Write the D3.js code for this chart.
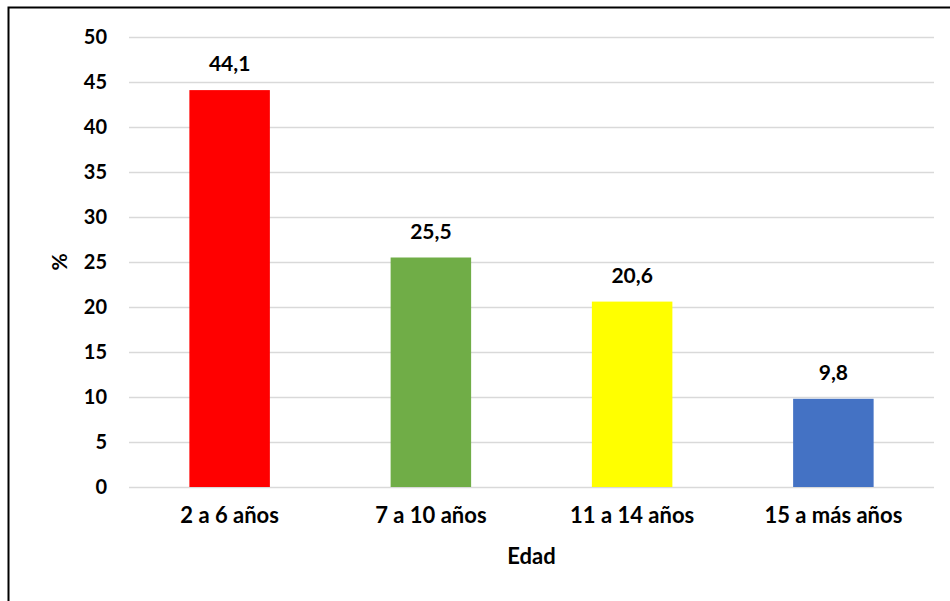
<!DOCTYPE html>
<html>
<head>
<meta charset="utf-8">
<script src="https://cdn.jsdelivr.net/npm/d3@7"></script>
<style>
  body { margin: 0; background: #fff; }
  text { font-family: Lato, "Open Sans", sans-serif; font-weight: bold; fill: #000; }
</style>
</head>
<body>
<div id="grafico"></div>
<script>
const edades = ["2 a 6 años", "7 a 10 años", "11 a 14 años", "15 a más años"];
const valores = [44.1, 25.5, 20.6, 9.8];
const colores = ["#ff0000", "#70ad47", "#ffff00", "#4472c4"];
const ticks = [0, 5, 10, 15, 20, 25, 30, 35, 40, 45, 50];

const width = 950;
const height = 601;
const margin = { top: 37, right: 16, bottom: 114, left: 129 };

const data = edades.map((e, i) => ({ edad: e, valor: valores[i], color: colores[i] }));

const svg = d3
  .select("#grafico")
  .append("svg")
  .attr("width", width)
  .attr("height", height);

// marco
svg
  .append("rect")
  .attr("x", 8.5)
  .attr("y", 7.5)
  .attr("width", width + 20)
  .attr("height", height + 20)
  .attr("fill", "none")
  .attr("stroke", "#000")
  .attr("stroke-width", 2);

const x = d3
  .scaleBand()
  .domain(edades)
  .range([margin.left, width - margin.right])
  .paddingInner(0.6)
  .paddingOuter(0.3);

const y = d3
  .scaleLinear()
  .domain([0, 50])
  .range([height - margin.bottom, margin.top]);

// Grilla
const ejeY = svg
  .append("g")
  .attr("transform", `translate(${margin.left},0)`)
  .call(
    d3.axisLeft(y)
      .tickValues(ticks)
      .tickSize(-(width - margin.left - margin.right))
      .tickPadding(22)
      .tickFormat(d3.format("d"))
  );
ejeY.select(".domain").remove();
ejeY.selectAll("line").attr("stroke", "#d9d9d9").attr("stroke-width", 1.5);
ejeY.selectAll("text").style("font-size", "20px");

// Barras
svg
  .append("g")
  .selectAll("rect")
  .data(data)
  .join("rect")
  .attr("x", (d) => x(d.edad))
  .attr("y", (d) => y(d.valor))
  .attr("width", x.bandwidth())
  .attr("height", (d) => y(0) - y(d.valor))
  .attr("fill", (d) => d.color);

// Etiquetas de valor
svg
  .append("g")
  .selectAll("text")
  .data(data)
  .join("text")
  .attr("x", (d) => x(d.edad) + x.bandwidth() / 2)
  .attr("y", (d) => y(d.valor) - 19)
  .attr("text-anchor", "middle")
  .style("font-size", "21px")
  .text((d) => d3.format(".1f")(d.valor).replace(".", ","));

// Eje X
const ejeX = svg
  .append("g")
  .attr("transform", `translate(0,${height - margin.bottom})`)
  .call(d3.axisBottom(x).tickSize(0).tickPadding(20));
ejeX.select(".domain").remove();
ejeX.selectAll("text").style("font-size", "22px");

// Títulos
svg
  .append("text")
  .attr("x", (margin.left + width - margin.right) / 2)
  .attr("y", 564)
  .attr("text-anchor", "middle")
  .style("font-size", "22px")
  .text("Edad");

svg
  .append("text")
  .attr("transform", `translate(67,${y(25)}) rotate(-90)`)
  .attr("text-anchor", "middle")
  .style("font-size", "21px")
  .text("%");
</script>
</body>
</html>
